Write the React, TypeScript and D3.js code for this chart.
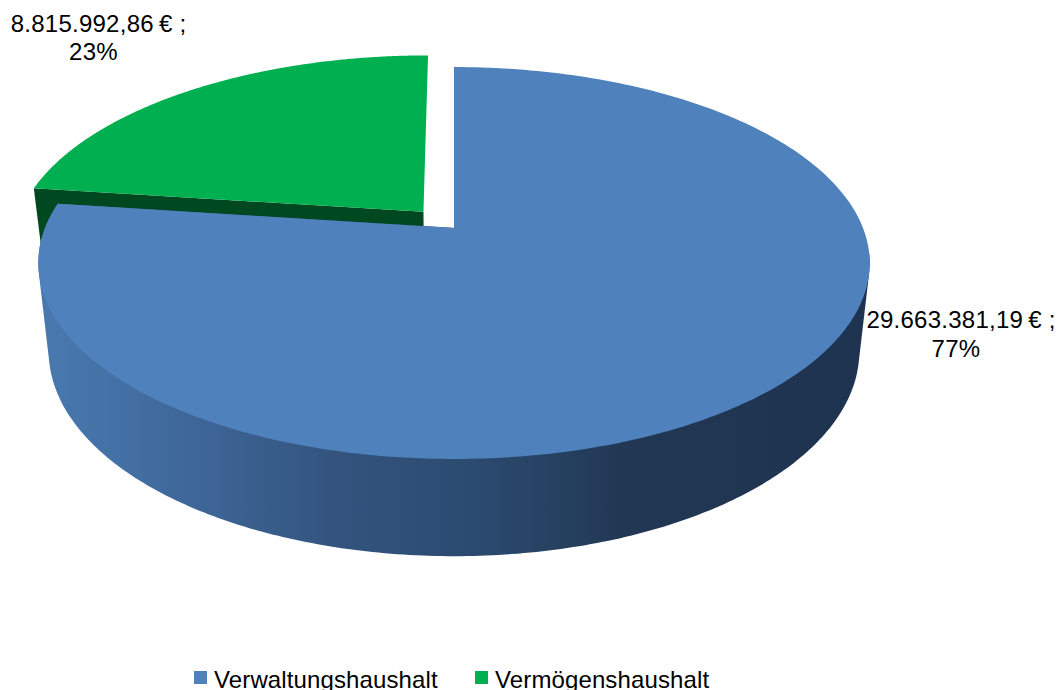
import React from "react";
import * as d3 from "d3";

const categories = ["Verwaltungshaushalt", "Vermögenshaushalt"];
const amounts = [29663381.19, 8815992.86];
const amountLabels = ["29.663.381,19\u2009€ ;", "8.815.992,86\u2009€ ;"];
const percentLabels = ["77%", "23%"];
const topColors = ["#4f81bd", "#00b050"];

const WIDTH = 1057;
const HEIGHT = 690;

// projection of the pie plane: far side shrinks, so the centre sits above the ellipse centre
const cx = 454;
const cy = 228;
const scaleX = 409;
const scaleY = 189.7;
const persp = 0.1786;
// the lower rim
const depthDrop = 86.6;
const depthScaleX = 0.975;
const depthScaleY = 1.046;
const explode = [0, 0.115];

type Pt = [number, number];

function project(angle: number, r: number, bottom: boolean, off: number, mid: number): Pt {
  const x = r * Math.sin(angle) + off * Math.sin(mid);
  const y = r * Math.cos(angle) + off * Math.cos(mid);
  const w = 1 + persp * y;
  const kx = bottom ? depthScaleX : 1;
  const ky = bottom ? depthScaleY : 1;
  return [cx + 1 * (kx * scaleX * x) / w, cy + (bottom ? depthDrop : 0) - (ky * scaleY * y) / w];
}

const line = d3.line<Pt>().curve(d3.curveLinear);

const App = () => {
  const arcs = d3.pie<number>().sort(null)(amounts);

  const rim = (a: d3.PieArcDatum<number>, i: number, bottom: boolean, from = a.startAngle) => {
    const mid = (a.startAngle + a.endAngle) / 2;
    return d3
      .range(0, 241)
      .map((s) => project(from + ((a.endAngle - from) * s) / 240, 1, bottom, explode[i], mid));
  };
  const centre = (a: d3.PieArcDatum<number>, i: number, bottom: boolean) =>
    project(0, 0, bottom, explode[i], (a.startAngle + a.endAngle) / 2);

  const blue = arcs[0];
  const green = arcs[1];
  const greenTop = rim(green, 1, false);
  const greenBottom = rim(green, 1, true);
  const blueTop = rim(blue, 0, false);

  // the wall is the hull of the front part of both rims, the top face covers the rest of it
  const wallStart = blue.startAngle + 1.7;
  const blueWall = d3.polygonHull([
    ...rim(blue, 0, false, wallStart),
    ...rim(blue, 0, true, wallStart),
  ]) as Pt[];

  const greenCut = [
    centre(green, 1, false),
    greenTop[0],
    greenBottom[0],
    centre(green, 1, true),
  ];

  return (
    <svg
      width={WIDTH}
      height={HEIGHT}
      style={{ position: "absolute", left: 0, top: 0 }}
      fontFamily="'Liberation Sans', Arial, sans-serif"
    >
      <defs>
        <linearGradient id="blueSide" gradientUnits="userSpaceOnUse" x1={50} x2={860} y1={0} y2={0}>
          <stop offset="0" stopColor="#4878ae" />
          <stop offset="0.1" stopColor="#436fa3" />
          <stop offset="0.346" stopColor="#33547f" />
          <stop offset="0.53" stopColor="#2b4a6f" />
          <stop offset="0.716" stopColor="#213753" />
          <stop offset="1" stopColor="#1e3350" />
        </linearGradient>
      </defs>

      <path d={line(greenCut) + "Z"} fill="#00481f" />
      <path d={line([centre(green, 1, false), ...greenTop]) + "Z"} fill={topColors[1]} />

      <path d={line(blueWall) + "Z"} fill="url(#blueSide)" />
      <path d={line([centre(blue, 0, false), ...blueTop]) + "Z"} fill={topColors[0]} />

      <g fontSize={24} fill="#000" textAnchor="middle" letterSpacing={0.25}>
        <text x={961} y={328}>{amountLabels[0]}</text>
        <text x={956} y={357}>{percentLabels[0]}</text>
        <text x={98.5} y={32}>{amountLabels[1]}</text>
        <text x={93.5} y={60}>{percentLabels[1]}</text>
      </g>

      <g fontSize={24} fill="#000" letterSpacing={0.12}>
        {categories.map((c, i) => (
          <g key={c} transform={`translate(${i === 0 ? 194 : 475},671)`}>
            <rect width={13} height={13} fill={topColors[i]} />
            <text x={20} y={17}>{c}</text>
          </g>
        ))}
      </g>
    </svg>
  );
};

export default App;
